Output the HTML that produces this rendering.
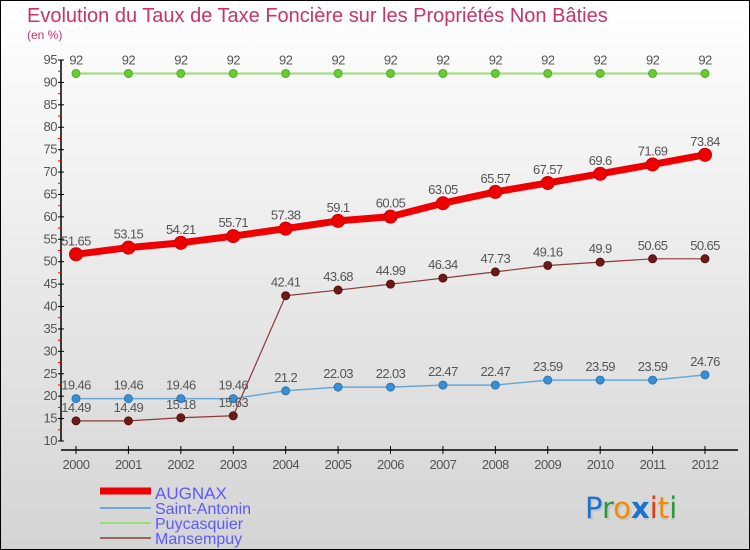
<!DOCTYPE html>
<html><head><meta charset="utf-8"><style>
body{margin:0}
svg{display:block;font-family:"Liberation Sans","DejaVu Sans",sans-serif}
</style></head><body>
<svg id="c" width="750" height="550">
<defs><linearGradient id="bg" x1="0" y1="0" x2="0" y2="1"><stop offset="0" stop-color="#ffffff"/><stop offset="1" stop-color="#d4d4d4"/></linearGradient></defs>
<rect x="0.5" y="0.5" width="749" height="549" fill="url(#bg)" stroke="#000"/>
<text x="27" y="22" font-size="20" fill="#c8336a">Evolution du Taux de Taxe Foncière sur les Propriétés Non Bâties</text>
<text x="27" y="39" font-size="12" fill="#c8336a">(en %)</text>
<g id="axes"></g><g id="series"></g>
<g>
<line x1="100" y1="491" x2="151" y2="491" stroke="#ee0000" stroke-width="7"/>
<text x="155" y="499" font-size="17" fill="#5a5aff">AUGNAX</text>
<line x1="100" y1="508" x2="151" y2="508" stroke="#6aa8d8" stroke-width="2"/>
<text x="155" y="514" font-size="16" fill="#5a5aff">Saint-Antonin</text>
<line x1="100" y1="523" x2="151" y2="523" stroke="#99dd77" stroke-width="2"/>
<text x="155" y="529" font-size="16" fill="#5a5aff">Puycasquier</text>
<line x1="100" y1="538" x2="151" y2="538" stroke="#996666" stroke-width="2"/>
<text x="155" y="544" font-size="16" fill="#5a5aff">Mansempuy</text>
</g>
<g font-size="29" font-family="'DejaVu Sans',sans-serif">
<text x="585" y="518" fill="#bbb" opacity="0.6" transform="translate(2,2)">Proxiti</text>
<text x="585" y="518"><tspan fill="#1a73d0">P</tspan><tspan fill="#2a9a3a">r</tspan><tspan fill="#f08c00">o</tspan><tspan fill="#1a73d0" font-weight="bold">x</tspan><tspan fill="#ee3311">i</tspan><tspan fill="#f08c00">t</tspan><tspan fill="#2a9a3a">i</tspan></text>
</g>
</svg>
<script>
const years=[2000,2001,2002,2003,2004,2005,2006,2007,2008,2009,2010,2011,2012];
const augnax=[51.65,53.15,54.21,55.71,57.38,59.1,60.05,63.05,65.57,67.57,69.6,71.69,73.84];
const saintAntonin=[19.46,19.46,19.46,19.46,21.2,22.03,22.03,22.47,22.47,23.59,23.59,23.59,24.76];
const puycasquier=[92,92,92,92,92,92,92,92,92,92,92,92,92];
const mansempuy=[14.49,14.49,15.18,15.63,42.41,43.68,44.99,46.34,47.73,49.16,49.9,50.65,50.65];
const yTicks=[10,15,20,25,30,35,40,45,50,55,60,65,70,75,80,85,90,95];
const NS='http://www.w3.org/2000/svg';
const x=i=>76+i*(705-76)/(years.length-1);
const y=v=>441-(v-10)*(441-60)/85;
function mk(t,a,p){const e=document.createElementNS(NS,t);for(const k in a)e.setAttribute(k,a[k]);p.appendChild(e);return e;}
const ax=document.getElementById('axes');
mk('line',{x1:61,y1:60,x2:61,y2:441,stroke:'#000','stroke-width':1.5},ax);
mk('line',{x1:61,y1:450,x2:738,y2:450,stroke:'#000','stroke-width':1.5},ax);
yTicks.forEach(v=>{
 const l=mk('line',{x1:58,y1:y(v),x2:64,y2:y(v),stroke:'#000'},ax);
 
 
 if(v<95){const m=mk('line',{x1:58,y1:y(v+2.5),x2:61,y2:y(v+2.5),stroke:'#e00'},ax);
 
 }
 const t=mk('text',{x:57,y:y(v)+4,'text-anchor':'end','font-size':13,fill:'#555','letter-spacing':'-0.5'},ax);
 
 
 t.textContent=v;
});
years.forEach((yr,i)=>{
 const l=mk('line',{x1:x(i),y1:446,x2:x(i),y2:454,stroke:'#000'},ax);
 
 
 const t=mk('text',{x:x(i),y:469,'text-anchor':'middle','font-size':13,fill:'#555','letter-spacing':'-0.5'},ax);
 
 
 t.textContent=yr;
});
const sg=document.getElementById('series');
function series(name,vals,color,w,r,dot,stroke){
 const g=mk('g',{},sg);
 
 
 const p=mk('polyline',{points:vals.map((v,i)=>x(i)+','+y(v)).join(' '),fill:'none',stroke:color,'stroke-width':w,'stroke-linejoin':'round'},g);
 
 
 vals.forEach((v,i)=>{
  const c=mk('circle',{cx:x(i),cy:y(v),r:r,fill:dot,stroke:stroke,'stroke-width':1},g);
  
  
  const t=mk('text',{x:x(i),y:y(v)-9,'text-anchor':'middle','font-size':13,fill:'#555','letter-spacing':'-0.6'},g);
  
  
  t.textContent=v;
 });
}
series('puycasquier',puycasquier,'#99dd77',2,4,'#66cc33','#55aa22');
series('saint-antonin',saintAntonin,'#6aa8d8',1.5,4,'#3b8fd0','#2a78b8');
series('mansempuy',mansempuy,'#8b3a3a',1.2,4,'#6b1a1a','#5a1010');
series('augnax',augnax,'#ee0000',7,6.5,'#ee0000','#cc0000');
</script>
</body></html>
